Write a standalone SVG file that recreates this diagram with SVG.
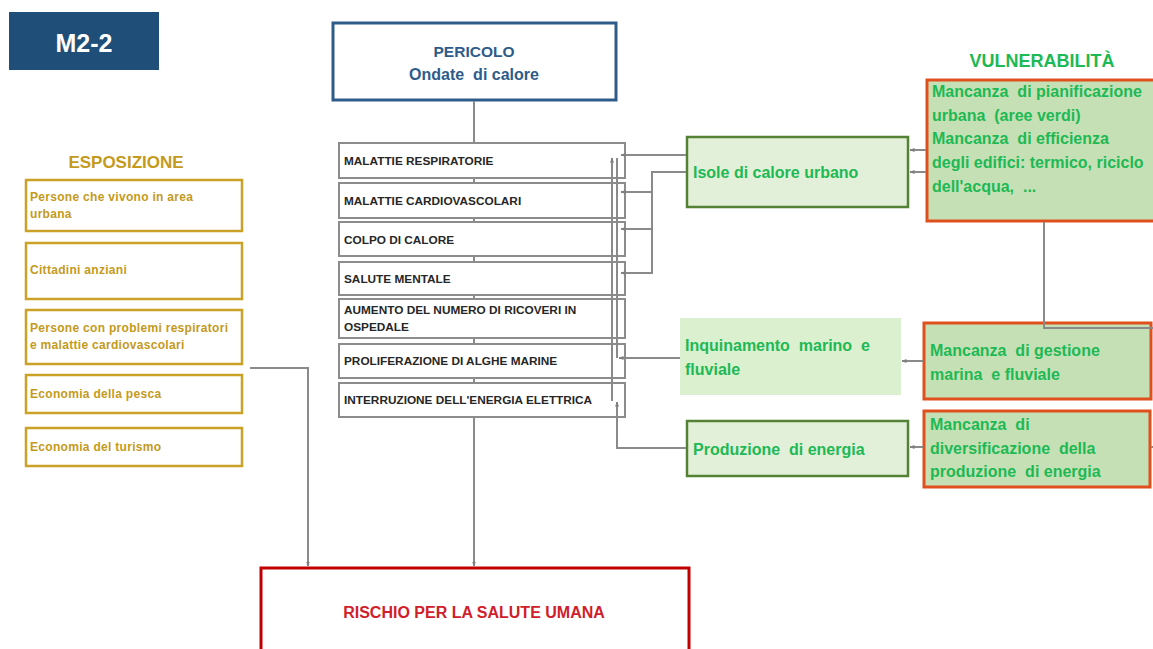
<svg xmlns="http://www.w3.org/2000/svg" width="1153" height="649" viewBox="0 0 1153 649">
<defs>
<marker id="ah" viewBox="0 0 10 10" refX="9" refY="5" markerWidth="5" markerHeight="5" orient="auto-start-reverse" markerUnits="userSpaceOnUse">
<path d="M0,1 L10,5 L0,9 z" fill="#7f7f7f"/>
</marker>
<style>
text{font-family:"Liberation Sans",Arial,sans-serif;font-weight:bold}
.c{fill:none;stroke:#8a8a8a;stroke-width:2}
.cb{fill:#fff;stroke:#8c8c8c;stroke-width:2}
.ct{font-size:11.8px;fill:#262626}
.eb{fill:#fff;stroke:#C9A227;stroke-width:2.5}
.et{font-size:12px;fill:#C49A1C;letter-spacing:0.3px}
.gb{fill:#E2F0D9;stroke:#548235;stroke-width:2.5}
.gt{font-size:16px;fill:#1DB954}
.vb{fill:#C5E0B4;stroke:#E0501E;stroke-width:3}
.vt{font-size:16px;fill:#1DB954}
</style>
</defs>
<rect width="1153" height="649" fill="#fff"/>

<g id="m22">
<rect x="9" y="12" width="150" height="58" fill="#1F4E79"/>
<text x="84" y="52" font-size="25" fill="#fff" text-anchor="middle">M2-2</text>
</g>

<g id="pericolo">
<rect x="333" y="23" width="283" height="77" fill="#fff" stroke="#2E5C8A" stroke-width="3"/>
<text x="474" y="57" font-size="15.5" fill="#2E5C8A" text-anchor="middle">PERICOLO</text>
<text x="474" y="80" font-size="16" fill="#2E5C8A" text-anchor="middle" xml:space="preserve">Ondate  di calore</text>
</g>

<g id="impatti">
<rect class="cb" x="339" y="143" width="286" height="35"/>
<text class="ct" x="344" y="165">MALATTIE RESPIRATORIE</text>
<rect class="cb" x="339" y="183" width="286" height="35"/>
<text class="ct" x="344" y="205">MALATTIE CARDIOVASCOLARI</text>
<rect class="cb" x="339" y="222" width="286" height="34"/>
<text class="ct" x="344" y="244">COLPO DI CALORE</text>
<rect class="cb" x="339" y="262" width="286" height="33"/>
<text class="ct" x="344" y="283">SALUTE MENTALE</text>
<rect class="cb" x="339" y="299" width="286" height="39"/>
<text class="ct" x="344" y="314">AUMENTO DEL NUMERO DI RICOVERI IN</text>
<text class="ct" x="344" y="331">OSPEDALE</text>
<rect class="cb" x="339" y="344" width="286" height="34"/>
<text class="ct" x="344" y="365">PROLIFERAZIONE DI ALGHE MARINE</text>
<rect class="cb" x="339" y="383" width="286" height="34"/>
<text class="ct" x="344" y="404">INTERRUZIONE DELL'ENERGIA ELETTRICA</text>
</g>

<g id="rischio">
<rect x="261" y="568" width="428" height="100" fill="#fff" stroke="#C00000" stroke-width="3"/>
<text x="474" y="618" font-size="16" fill="#D0202A" text-anchor="middle">RISCHIO PER LA SALUTE UMANA</text>
</g>

<g id="esposizione">
<text x="126" y="168" font-size="17" fill="#C49A1C" text-anchor="middle">ESPOSIZIONE</text>
<rect class="eb" x="26" y="180" width="216" height="51"/>
<text class="et" x="30" y="201">Persone che vivono in area</text>
<text class="et" x="30" y="218">urbana</text>
<rect class="eb" x="26" y="243" width="216" height="56"/>
<text class="et" x="30" y="274">Cittadini anziani</text>
<rect class="eb" x="26" y="310" width="216" height="54"/>
<text class="et" x="30" y="332">Persone con problemi respiratori</text>
<text class="et" x="30" y="349">e malattie cardiovascolari</text>
<rect class="eb" x="26" y="375" width="216" height="38"/>
<text class="et" x="30" y="398">Economia della pesca</text>
<rect class="eb" x="26" y="428" width="216" height="38"/>
<text class="et" x="30" y="451">Economia del turismo</text>
</g>

<g id="isole">
<rect class="gb" x="687" y="137" width="221" height="70"/>
<text class="gt" x="693" y="178">Isole di calore urbano</text>
</g>

<g id="inquinamento">
<rect x="680" y="318" width="221" height="77" fill="#DAF0CF"/>
<text class="gt" x="685" y="351" xml:space="preserve">Inquinamento  marino  e</text>
<text class="gt" x="685" y="375">fluviale</text>
</g>

<g id="produzione">
<rect class="gb" x="687" y="421" width="221" height="55"/>
<text class="gt" x="693" y="455" xml:space="preserve">Produzione  di energia</text>
</g>

<g id="vulnerabilita">
<text x="1042" y="67" font-size="18" fill="#1DB954" text-anchor="middle">VULNERABILITÀ</text>
<rect class="vb" x="927" y="80" width="240" height="141"/>
<text class="vt" x="932" y="97" xml:space="preserve">Mancanza  di pianificazione</text>
<text class="vt" x="932" y="121" xml:space="preserve">urbana  (aree verdi)</text>
<text class="vt" x="932" y="144" xml:space="preserve">Mancanza  di efficienza</text>
<text class="vt" x="932" y="168">degli edifici: termico, riciclo</text>
<text class="vt" x="932" y="192" xml:space="preserve">dell'acqua,  ...</text>
</g>

<g id="gestione">
<rect class="vb" x="924" y="323" width="227" height="76"/>
<text class="vt" x="930" y="356" xml:space="preserve">Mancanza  di gestione</text>
<text class="vt" x="930" y="380" xml:space="preserve">marina  e fluviale</text>
</g>

<g id="diversificazione">
<rect class="vb" x="924" y="411" width="226" height="76"/>
<text class="vt" x="930" y="430" xml:space="preserve">Mancanza  di</text>
<text class="vt" x="930" y="454" xml:space="preserve">diversificazione  della</text>
<text class="vt" x="930" y="477" xml:space="preserve">produzione  di energia</text>
</g>

<g id="connectors">
<line class="c" x1="474" y1="101" x2="474" y2="142"/>
<line class="c" x1="474" y1="179" x2="474" y2="182"/>
<line class="c" x1="474" y1="219" x2="474" y2="221"/>
<line class="c" x1="474" y1="257" x2="474" y2="261"/>
<line class="c" x1="474" y1="296" x2="474" y2="298"/>
<line class="c" x1="474" y1="339" x2="474" y2="343"/>
<line class="c" x1="474" y1="379" x2="474" y2="382"/>
<line class="c" x1="474" y1="418" x2="474" y2="566" marker-end="url(#ah)"/>
<polyline class="c" points="250,368 308,368 308,566" marker-end="url(#ah)"/>
<polyline class="c" points="686,155 621,155" marker-end="url(#ah)"/>
<polyline class="c" points="686,172 652,172 652,273 621,273" marker-end="url(#ah)"/>
<line class="c" x1="652" y1="192" x2="621" y2="192" marker-end="url(#ah)"/>
<line class="c" x1="652" y1="229" x2="621" y2="229" marker-end="url(#ah)"/>
<line class="c" x1="680" y1="358" x2="619" y2="358" marker-end="url(#ah)"/>
<polyline class="c" points="686,448 617,448 617,402" marker-end="url(#ah)"/>
<line class="c" x1="612" y1="401" x2="612" y2="158" marker-end="url(#ah)"/>
<line class="c" x1="617" y1="158" x2="617" y2="358"/>
<line class="c" x1="926" y1="150" x2="910" y2="150" marker-end="url(#ah)"/>
<line class="c" x1="926" y1="172" x2="910" y2="172" marker-end="url(#ah)"/>
<polyline class="c" points="1044,222 1044,328 1153,328"/>
<line class="c" x1="923" y1="361" x2="902" y2="361" marker-end="url(#ah)"/>
<line class="c" x1="923" y1="447" x2="910" y2="447" marker-end="url(#ah)"/>
<line class="c" x1="1151" y1="447" x2="1153" y2="447"/>
</g>
</svg>
